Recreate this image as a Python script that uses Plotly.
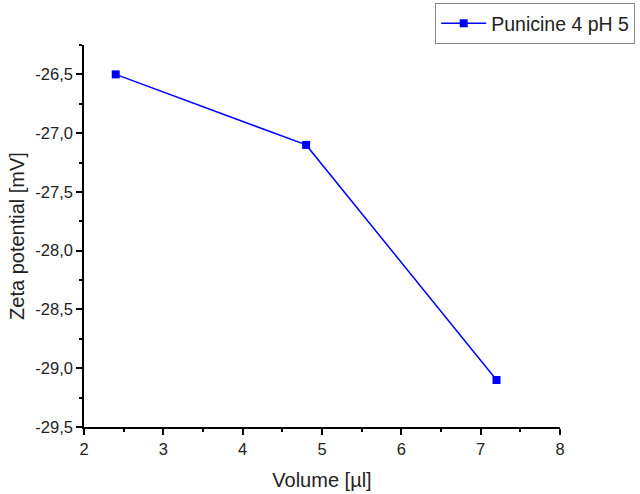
import plotly.graph_objects as go

volume = [2.4, 4.8, 7.2]
zeta = [-26.5, -27.1, -29.1]
series_name = "Punicine 4 pH 5"

y_tickvals = [-29.5, -29.0, -28.5, -28.0, -27.5, -27.0, -26.5]
y_ticktext = ["-29,5", "-29,0", "-28,5", "-28,0", "-27,5", "-27,0", "-26,5"]
y_minorvals = [-29.25, -28.75, -28.25, -27.75, -27.25, -26.75, -26.25]
x_tickvals = [2, 3, 4, 5, 6, 7, 8]
x_minorvals = [2.5, 3.5, 4.5, 5.5, 6.5, 7.5]

FONT = "Liberation Sans, Arial, sans-serif"

fig = go.Figure()
fig.add_trace(go.Scatter(
    x=volume, y=zeta, mode="lines+markers", name=series_name,
    line=dict(color="#0000FF", width=1.5),
    marker=dict(symbol="square", size=8, color="#0000FF"),
    showlegend=True,
))

axis_common = dict(
    showline=True, linecolor="black", linewidth=1.5,
    ticks="outside", ticklen=6, tickwidth=1.5, tickcolor="black",
    showgrid=False, zeroline=False, mirror=False,
    tickfont=dict(family=FONT, size=16.5, color="#222"),
)

fig.update_layout(
    width=640, height=494,
    paper_bgcolor="white", plot_bgcolor="white",
    margin=dict(l=84, r=80, t=45, b=67, autoexpand=False),
    font=dict(family=FONT, color="#222"),
    xaxis=dict(
        range=[2, 8], tickmode="array", tickvals=x_tickvals,
        title=dict(text="Volume [µl]", font=dict(size=20), standoff=16),
        minor=dict(ticks="outside", ticklen=3, tickwidth=1.5, tickcolor="black",
                   tickmode="array", tickvals=x_minorvals),
        automargin=False,
        **axis_common,
    ),
    yaxis=dict(
        range=[-29.5, -26.25], tickmode="array", tickvals=y_tickvals, ticktext=y_ticktext,
        title=dict(text="Zeta potential [mV]", font=dict(size=20), standoff=5),
        minor=dict(ticks="outside", ticklen=3, tickwidth=1.5, tickcolor="black",
                   tickmode="array", tickvals=y_minorvals),
        automargin=False,
        **axis_common,
    ),
    legend=dict(
        x=1.158, y=1.11, xanchor="right", yanchor="top",
        bordercolor="#888", borderwidth=1, bgcolor="white",
        font=dict(size=19.5, color="#222"),
        itemwidth=45,
    ),
)

fig.write_html("out.html")
